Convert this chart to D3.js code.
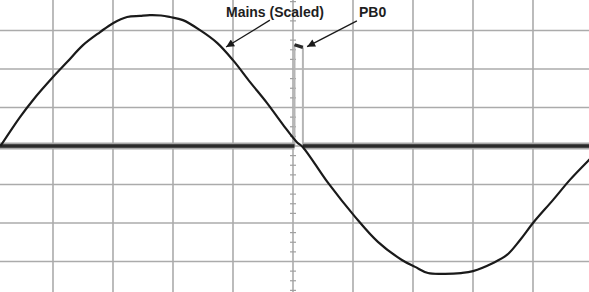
<!DOCTYPE html>
<html>
<head>
<meta charset="utf-8">
<script src="https://cdn.jsdelivr.net/npm/d3@7"></script>
<style>
  body { margin: 0; background: #fff; }
  svg { display: block; }
  .lbl { font-family: "Liberation Sans", Arial, sans-serif; font-size: 14px; font-weight: bold; fill: #1e1e1e; }
</style>
</head>
<body>
<div id="scope"></div>
<script>
// time in ms (2 ms / div), level in divisions
var gridTimes = d3.range(0, 21, 2);
var gridLevels = d3.range(-4, 5, 1);

// Mains (Scaled) trace
var mainsT = [0.25, 0.9, 1.33, 2.0, 2.47, 3.0, 3.57, 4.0, 4.47, 4.9, 5.23, 5.6, 5.9, 6.33, 6.9, 7.47, 8.0, 8.57, 9.13, 9.67, 10.13, 10.33,
              11.17, 12.07, 12.83, 13.63, 14.07, 14.5, 15.07, 15.6, 16.0, 16.67, 17.13, 17.57, 18.0, 18.67, 19.23, 19.87, 20.0];
var mainsV = [0.0, 0.75, 1.19, 1.79, 2.18, 2.62, 2.96, 3.19, 3.35, 3.38, 3.40, 3.39, 3.35, 3.27, 3.01, 2.68, 2.23, 1.66, 1.12, 0.55, 0.10, -0.03,
              -0.96, -1.84, -2.49, -2.96, -3.14, -3.30, -3.32, -3.30, -3.25, -3.04, -2.83, -2.44, -2.0, -1.40, -0.88, -0.36, -0.26];

// PB0 digital trace
var pb0T = [0, 10.05, 10.05, 10.33, 10.33, 20];
var pb0V = [0, 0, 2.63, 2.56, 0, 0];

// annotations: label position and arrow tail / tip
var noteText = ["Mains (Scaled)", "PB0"];
var noteAt = [[9.4, 3.35], [12.2, 3.35]];
var noteFrom = [[9.23, 3.27], [12.13, 3.25]];
var noteTo = [[7.77, 2.57], [10.47, 2.58]];

var width = 589, height = 292;

var svg = d3.select("#scope")
  .append("svg")
    .attr("width", width)
    .attr("height", height);

var x = d3.scaleLinear().domain([0, 20]).range([-7, 593]);
var y = d3.scaleLinear().domain([-4, 4]).range([300, -8]);

// grid
svg.append("g").selectAll("line")
  .data(gridTimes).enter().append("line")
    .attr("x1", function(d) { return x(d); })
    .attr("x2", function(d) { return x(d); })
    .attr("y1", y(4)).attr("y2", y(-4))
    .attr("stroke", "#ababab").attr("stroke-width", 1.6);
svg.append("g").selectAll("line")
  .data(gridLevels).enter().append("line")
    .attr("y1", function(d) { return y(d); })
    .attr("y2", function(d) { return y(d); })
    .attr("x1", x(0)).attr("x2", x(20))
    .attr("stroke", "#ababab").attr("stroke-width", 1.6);

// minor ticks on the centre axes
var vTicks = d3.range(-4, 4.01, 0.25).filter(function(d) { return d % 1 !== 0; });
var hTicks = d3.range(0, 20.01, 0.4).filter(function(d) { return Math.abs(d / 2 - Math.round(d / 2)) > 0.01; });
svg.append("g").selectAll("line")
  .data(vTicks).enter().append("line")
    .attr("x1", x(10) - 3).attr("x2", x(10) + 3)
    .attr("y1", function(d) { return y(d); })
    .attr("y2", function(d) { return y(d); })
    .attr("stroke", "#a0a0a0").attr("stroke-width", 1.2);
svg.append("g").selectAll("line")
  .data(hTicks).enter().append("line")
    .attr("y1", y(0) - 3).attr("y2", y(0) + 3)
    .attr("x1", function(d) { return x(d); })
    .attr("x2", function(d) { return x(d); })
    .attr("stroke", "#a0a0a0").attr("stroke-width", 1);

var line = d3.line()
  .x(function(d) { return x(d[0]); })
  .y(function(d) { return y(d[1]); });

// PB0: noisy band + dark core, light vertical edges
var pb0 = pb0T.map(function(t, i) { return [t, pb0V[i]]; });
var segs = d3.pairs(pb0);
var flat = segs.filter(function(s) { return s[0][0] !== s[1][0]; });
var edges = segs.filter(function(s) { return s[0][0] === s[1][0]; });
var low = flat.filter(function(s) { return s[0][1] < 1 && s[1][1] < 1; });

svg.append("g").selectAll("path")
  .data(edges).enter().append("path")
    .attr("d", line)
    .attr("stroke", "#b5b5b5").attr("stroke-width", 2).attr("fill", "none");
svg.append("g").selectAll("path")
  .data(low).enter().append("path")
    .attr("d", line)
    .attr("stroke", "#a8a8a8").attr("stroke-width", 7).attr("fill", "none");
svg.append("g").selectAll("path")
  .data(flat).enter().append("path")
    .attr("d", line)
    .attr("stroke", "#2a2a2a").attr("stroke-width", 3.4).attr("fill", "none");

// mains
var mains = mainsT.map(function(t, i) { return [t, mainsV[i]]; });
svg.append("path")
  .datum(mains)
    .attr("d", line.curve(d3.curveCatmullRom))
    .attr("stroke", "#1a1a1a")
    .attr("stroke-width", 2.2)
    .attr("fill", "none");

// labels and arrows
svg.append("defs").append("marker")
    .attr("id", "head")
    .attr("viewBox", "0 0 10 10")
    .attr("refX", 10).attr("refY", 5)
    .attr("markerWidth", 10).attr("markerHeight", 8)
    .attr("markerUnits", "userSpaceOnUse")
    .attr("orient", "auto")
  .append("path")
    .attr("d", "M0,0L10,5L0,10z")
    .attr("fill", "#1a1a1a");

noteText.forEach(function(txt, i) {
  svg.append("text")
    .attr("class", "lbl")
    .attr("x", x(noteAt[i][0]))
    .attr("y", y(noteAt[i][1]))
    .attr("text-anchor", i === 0 ? "middle" : "start")
    .text(txt);
  svg.append("line")
    .attr("x1", x(noteFrom[i][0])).attr("y1", y(noteFrom[i][1]))
    .attr("x2", x(noteTo[i][0])).attr("y2", y(noteTo[i][1]))
    .attr("stroke", "#1a1a1a").attr("stroke-width", 1.3)
    .attr("marker-end", "url(#head)");
});
</script>
</body>
</html>
